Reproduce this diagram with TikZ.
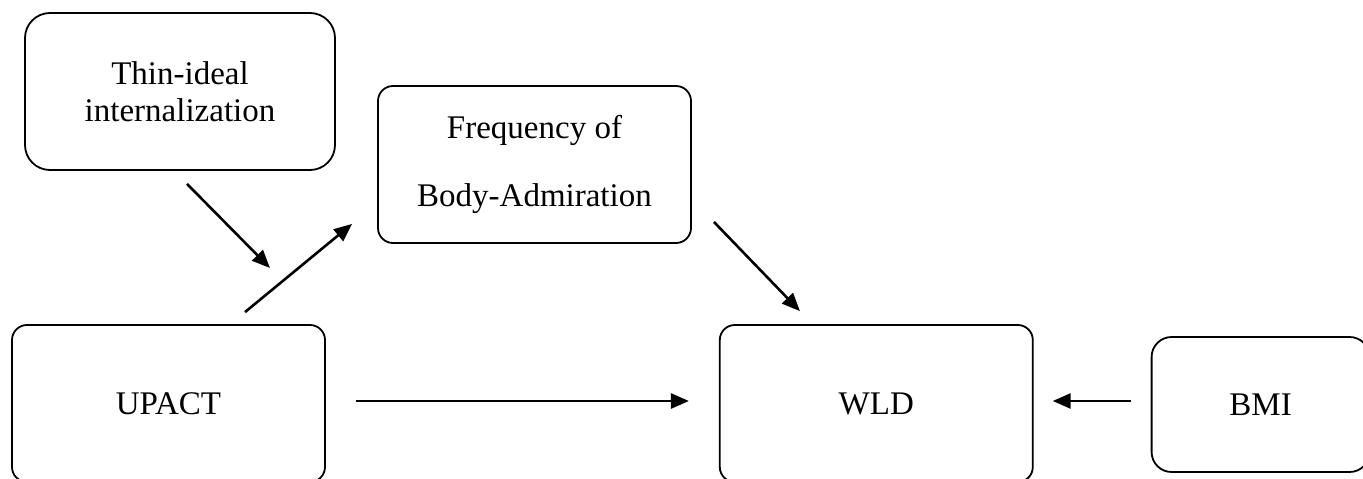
\documentclass[tikz,border=0pt]{standalone}
\usepackage{fontspec}
\setmainfont{Liberation Serif}
\usepackage{tikz}
\usetikzlibrary{arrows.meta,positioning,calc}

\begin{document}
\begin{tikzpicture}[
      x=1pt,y=-1pt,
      box/.style={
        rectangle,
        draw,
        line width=1.8pt,
        fill=white,
        align=center,
        minimum width=313pt,
        minimum height=157pt,
        rounded corners=15pt,
        font=\fontsize{33}{37}\selectfont
      },
      arrow/.style={-{Triangle[length=18pt,width=15pt]},line width=2.6pt}
    ]
    \useasboundingbox (0,0) rectangle (1363,479);

    % Boxes
    \node[box] (upact) at (168.5,403.5) {UPACT};
    \node[box,right=393pt of upact] (wld) {WLD};
    \node[box,right=117pt of wld,minimum width=218pt,minimum height=135pt,rounded corners=20pt,yshift=-1pt] (bmi) {BMI};
    \node[box,minimum width=310pt,rounded corners=25pt] (thin) at (180,91.5) {Thin-ideal\\internalization};
    \node[box,font=\fontsize{33}{68}\selectfont] (freq) at (534.5,164.5) {Frequency of\\Body-Admiration};

    % Moderation point
    \coordinate (mod) at (270,268);

    \draw[arrow] ($(thin.south)+(7,13)$) -- (mod);
    \draw[arrow] ($(upact.north)+(76.5,-12)$) -- ($(freq.south west)+(-25,-20)$);
    \draw[arrow] ($(freq.south east)+(22,-22)$) -- ($(wld.north west)+(81,-13)$);
    \draw[arrow] ($(upact.east)+(30,-2.5)$) -- ($(wld.west)+(-30,-2.5)$);
    \draw[arrow] ($(bmi.west)+(-20,-3.5)$) -- ($(wld.east)+(19,-2.5)$);
  \end{tikzpicture}
\end{document}
